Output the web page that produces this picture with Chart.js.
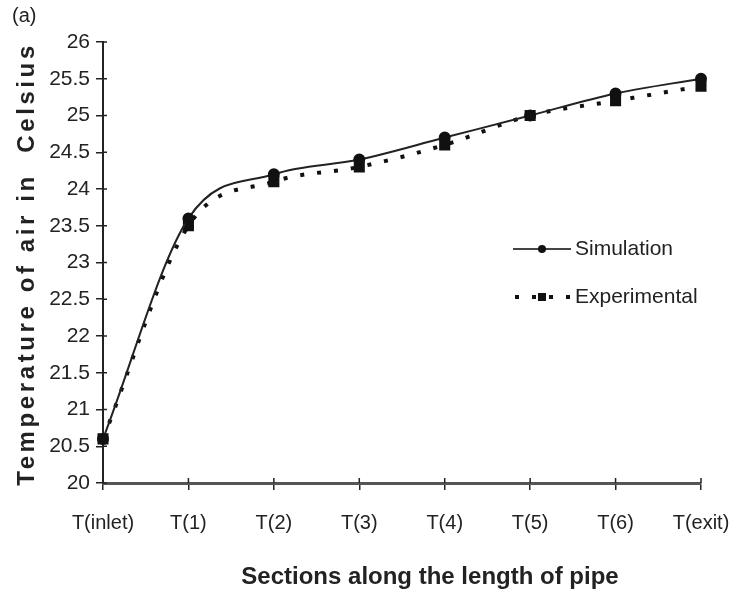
<!DOCTYPE html>
<html lang="en">
<head>
  <meta charset="UTF-8" />
  <title>Temperature of air along pipe</title>
  <script src="https://cdn.jsdelivr.net/npm/chart.js@4.4.0/dist/chart.umd.min.js"></script>
  <style>
    html, body { margin: 0; padding: 0; background: #fff; }
    #wrap { position: relative; width: 730px; height: 595px; }
  </style>
</head>
<body>
  <div id="wrap">
    <canvas id="myChart" width="730" height="595"></canvas>
  </div>
  <script>
    const sections = ["T(inlet)", "T(1)", "T(2)", "T(3)", "T(4)", "T(5)", "T(6)", "T(exit)"];
    const simulation = [20.6, 23.6, 24.2, 24.4, 24.7, 25.0, 25.3, 25.5];
    const experimental = [20.6, 23.5, 24.1, 24.3, 24.6, 25.0, 25.2, 25.4];
    const yMin = 20, yMax = 26, yStep = 0.5;
    const yTitle = "Temperature of air in  Celsius";
    const xTitle = "Sections along the length of pipe";

    const FONT = "'Liberation Sans', Arial, sans-serif";

    // legend inside the plot, the "(a)" label, the axis titles and inner tick stubs
    const extras = {
      id: "extras",
      afterDraw(chart) {
        const c = chart.ctx;
        const x = chart.scales.x, y = chart.scales.y;
        c.save();
        // ticks cross the axes
        c.strokeStyle = "#222";
        c.lineWidth = 1.5;
        y.ticks.forEach((t, i) => {
          const py = y.getPixelForTick(i);
          c.beginPath(); c.moveTo(x.left, py); c.lineTo(x.left + 4, py); c.stroke();
        });
        x.ticks.forEach((t, i) => {
          const px = x.getPixelForTick(i);
          c.beginPath(); c.moveTo(px, y.bottom); c.lineTo(px, y.bottom - 5); c.stroke();
        });

        c.fillStyle = "#222";
        c.font = "20px " + FONT;
        c.textBaseline = "top";
        c.textAlign = "left";
        c.fillText("(a)", 12, 6);

        // y axis title, spaced out
        c.save();
        c.translate(27, 264);
        c.rotate(-Math.PI / 2);
        c.font = "bold 24px " + FONT;
        c.letterSpacing = "3.6px";
        c.textAlign = "center";
        c.textBaseline = "middle";
        c.fillText(yTitle, 0, 0);
        c.restore();

        // x axis title
        c.font = "bold 24px " + FONT;
        c.textAlign = "center";
        c.textBaseline = "middle";
        c.fillText(xTitle, 430, 577);

        // legend
        const lx = 513, lw = 58;
        c.font = "21px " + FONT;
        c.textAlign = "left";
        c.textBaseline = "middle";
        let ly = 249;
        c.strokeStyle = "#444"; c.lineWidth = 2; c.setLineDash([]);
        c.beginPath(); c.moveTo(lx, ly); c.lineTo(lx + lw, ly); c.stroke();
        c.fillStyle = "#111";
        c.beginPath(); c.arc(lx + lw / 2, ly, 4, 0, Math.PI * 2); c.fill();
        c.fillStyle = "#222";
        c.fillText("Simulation", lx + lw + 4, ly);
        ly = 297;
        c.strokeStyle = "#111"; c.lineWidth = 4; c.setLineDash([4, 13]);
        c.beginPath(); c.moveTo(lx + 2, ly); c.lineTo(lx + lw, ly); c.stroke();
        c.setLineDash([]);
        c.fillStyle = "#111";
        c.fillRect(lx + lw / 2 - 4, ly - 4, 8, 8);
        c.fillStyle = "#222";
        c.fillText("Experimental", lx + lw + 4, ly);
        c.restore();
      }
    };

    const ctx = document.getElementById("myChart").getContext("2d");
    const myChart = new Chart(ctx, {
      type: "line",
      data: {
        labels: sections,
        datasets: [
          {
            label: "Simulation",
            data: simulation,
            borderColor: "#222",
            borderWidth: 2,
            cubicInterpolationMode: "monotone",
            pointStyle: "circle",
            pointRadius: 5,
            pointBackgroundColor: "#111",
            pointBorderColor: "#111",
            fill: false,
          },
          {
            label: "Experimental",
            data: experimental,
            borderColor: "#111",
            borderWidth: 4,
            borderDash: [4, 13],
            cubicInterpolationMode: "monotone",
            pointStyle: "rect",
            pointRadius: 5,
            pointBackgroundColor: "#111",
            pointBorderColor: "#111",
            fill: false,
          },
        ],
      },
      options: {
        responsive: false,
        animation: false,
        layout: { padding: { top: 42, right: 29, left: 6, bottom: 6 } },
        plugins: {
          legend: { display: false },
          tooltip: { enabled: false },
        },
        scales: {
          x: {
            offset: false,
            grid: { display: true, drawOnChartArea: false, drawTicks: true, tickLength: 7, color: "#222", lineWidth: 1.5 },
            border: { display: true, color: "#555", width: 3 },
            ticks: { color: "#222", font: { family: FONT, size: 20 }, padding: 21, maxRotation: 0, autoSkip: false },
            afterFit(scale) {
              scale.height = 106;
              scale.paddingLeft = 0;
              scale.paddingRight = 0;
            },
          },
          y: {
            min: yMin,
            max: yMax,
            grid: { display: true, drawOnChartArea: false, drawTicks: true, tickLength: 7, color: "#222", lineWidth: 1.5 },
            border: { display: true, color: "#222", width: 2 },
            ticks: {
              stepSize: yStep,
              color: "#222",
              font: { family: FONT, size: 21 },
              padding: 6,
              callback: (v) => String(v),
            },
            afterFit(scale) { scale.width = 97; },
          },
        },
      },
      plugins: [extras],
    });
  </script>
</body>
</html>
